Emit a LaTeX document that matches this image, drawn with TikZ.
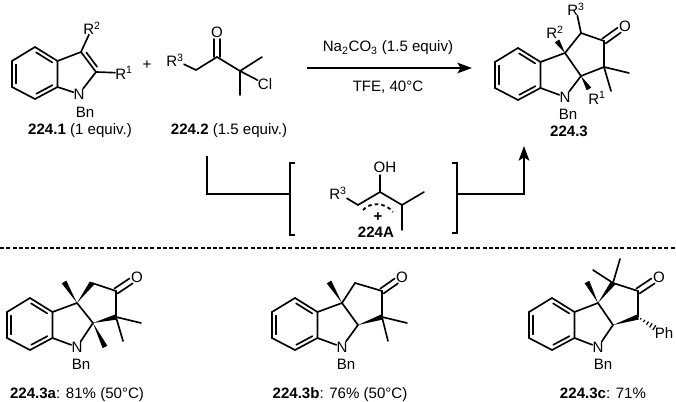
\documentclass[tikz,border=0pt]{standalone}
\usepackage{fontspec}
\setmainfont{Liberation Sans}
\usetikzlibrary{calc}
\usetikzlibrary{arrows.meta,positioning}
\tikzstyle{every node}=[font=\fontsize{11.3}{13}\selectfont]
\tikzstyle{atm}=[inner sep=0pt]
\tikzstyle{lbl}=[inner sep=0pt, anchor=base]
\tikzstyle{bd}=[line width=1.25pt, line join=miter, line cap=round]
\tikzstyle{brk}=[line width=1.25pt, line join=miter]
\tikzstyle{arw}=[-{Stealth[length=11pt,width=8pt,inset=2.5pt]}]
% inner line of a double bond
\newcommand{\inbd}[3]{\draw[bd] ($(#1)!.14!(#2)!#3!90:(#2)$) -- ($(#2)!.14!(#1)!#3!-90:(#1)$);}
% carbonyl, stops short of the O
\newcommand{\cobd}[2]{
\draw[bd] ($(#1)!2.2pt!90:(#2)$) -- ($(#1)!.72!(#2)!2.2pt!90:(#2)$);
\draw[bd] ($(#1)!2.2pt!-90:(#2)$) -- ($(#1)!.72!(#2)!2.2pt!-90:(#2)$);
}
% filled wedge, narrow at #1
\newcommand{\wdg}[2]{\fill (#1) -- ($(#2)!2pt!90:(#1)$) -- ($(#2)!2pt!-90:(#1)$) -- cycle;}
% six ring, #1 is the prefix, #2 the top corner
\newcommand{\bzring}[2]{
\coordinate (#1t) at (#2);
\coordinate (#1a) at ($(#1t)+(22.5,14)$);
\coordinate (#1b) at ($(#1t)+(22.5,40)$);
\coordinate (#1c) at ($(#1t)+(0,52)$);
\coordinate (#1d) at ($(#1t)+(-23,40)$);
\coordinate (#1e) at ($(#1t)+(-23,14)$);
\draw[bd] (#1t) -- (#1a) -- (#1b) -- (#1c) -- (#1d) -- (#1e) -- cycle;
\inbd{#1a}{#1t}{3pt}
\inbd{#1b}{#1c}{-3pt}
\inbd{#1d}{#1e}{-3pt}
}
\begin{document}
\begin{tikzpicture}[x=0.75pt, y=-0.75pt]
\useasboundingbox (0,0) rectangle (676,402);

%indole
\bzring{i}{35,47}
\node[atm] (iN) at (79,94) {N};
\node[atm] (iR2) at (92,28) {R\textsuperscript{2}};
\node[atm] (iR1) at (124,73) {R\textsuperscript{1}};
\node[atm] (iBn) at (85,112) {Bn};
\coordinate (iC3) at (81,52);
\coordinate (iC2) at (96,72);
\draw[bd] (ia) -- (iC3) -- (iC2) -- (iN) -- (ib);
\inbd{iC3}{iC2}{3pt}
\draw[bd] (iC3) -- (iR2);
\draw[bd] (iC2) -- (iR1);
\node[lbl] (l1) at (80,135) {\textbf{224.1} (1 equiv.)};
\node[atm] (plus) at (147,65) {+};

%ketone
\node[atm] (kR3) at (175,60) {R\textsuperscript{3}};
\node[atm] (kO) at (217,32) {O};
\node[atm] (kCl) at (265,84) {Cl};
\coordinate (kC1) at (196,70);
\coordinate (kC2) at (217,57);
\coordinate (kC3) at (240,71);
\coordinate (kM1) at (262,57);
\coordinate (kM2) at (240,95);
\draw[bd] (kR3) -- (kC1) -- (kC2) -- (kC3) -- (kM1);
\draw[bd] (kC3) -- (kM2);
\draw[bd] (kC3) -- (kCl);
\cobd{kC2}{kO}
\node[lbl] (l2) at (229,135) {\textbf{224.2} (1.5 equiv.)};

%arrow
\coordinate (ar1) at (307,68);
\coordinate (ar2) at (472,68);
\draw[brk, arw] (ar1) -- (ar2);
\node[lbl] (c1) at (388,52) {Na\textsubscript{2}CO\textsubscript{3} (1.5 equiv)};
\node[lbl] (c2) at (388,92) {TFE, 40°C};

%product
\bzring{p}{518,48}
\node[atm] (pN) at (565,97) {N};
\node[atm] (pBn) at (568,114) {Bn};
\node[atm] (pO) at (625,26) {O};
\node[atm] (pR3) at (576,9) {R\textsuperscript{3}};
\node[atm] (pR2) at (555,32) {R\textsuperscript{2}};
\node[atm] (pR1) at (597,98) {R\textsuperscript{1}};
\coordinate (pC1) at (565,53);
\coordinate (pC2) at (581,76);
\coordinate (pC3) at (581,33);
\coordinate (pC4) at (604,41);
\coordinate (pC5) at (604,67);
\coordinate (pM1) at (629,73);
\coordinate (pM2) at (611,91);
\coordinate (pW2) at (557,41);
\coordinate (pW1) at (589,89);
\draw[bd] (pa) -- (pC1) -- (pC3) -- (pC4) -- (pC5) -- (pC2) -- (pC1);
\draw[bd] (pC2) -- (pN) -- (pb);
\draw[bd] (pC5) -- (pM1);
\draw[bd] (pC5) -- (pM2);
\draw[bd] (pC3) -- (pR3);
\wdg{pC1}{pW2}
\wdg{pC2}{pW1}
\cobd{pC4}{pO}
\node[lbl] (l3) at (569,137) {\textbf{224.3}};

%bracket part
\coordinate (s1) at (207,156);
\coordinate (s2) at (207,194);
\coordinate (s3) at (290,194);
\draw[brk] (s1) -- (s2) -- (s3);
\coordinate (lb1) at (295,163);
\coordinate (lb2) at (290,163);
\coordinate (lb3) at (290,235);
\coordinate (lb4) at (295,235);
\draw[brk] (lb1) -- (lb2) -- (lb3) -- (lb4);
\coordinate (rb1) at (452,163);
\coordinate (rb2) at (457,163);
\coordinate (rb3) at (457,233);
\coordinate (rb4) at (452,233);
\draw[brk] (rb1) -- (rb2) -- (rb3) -- (rb4);
\coordinate (e1) at (457,194);
\coordinate (e2) at (524,194);
\coordinate (e3) at (524,146);
\draw[brk, arw] (e1) -- (e2) -- (e3);

%cation
\node[atm] (aR3) at (338,193) {R\textsuperscript{3}};
\node[atm] (aOH) at (385,167) {OH};
\coordinate (aC1) at (358,205);
\coordinate (aC2) at (380,192);
\coordinate (aC3) at (402,205);
\coordinate (aM1) at (424,192);
\coordinate (aM2) at (402,230);
\coordinate (aOb) at (380,175);
\draw[bd] (aR3) -- (aC1) -- (aC2) -- (aC3) -- (aM1);
\draw[bd] (aC3) -- (aM2);
\draw[bd] (aC2) -- (aOb);
\coordinate (d1) at (363,210);
\coordinate (d2) at (393,212);
\draw[line width=1.4pt, dash pattern=on 2.6pt off 2.4pt] (d1) .. controls (370,202) and (385,202) .. (d2);
\node[atm] (aP) at (378,217) {\textbf{+}};
\node[lbl] (l4) at (376,238) {\textbf{224A}};

%separator
\coordinate (sp1) at (0,248);
\coordinate (sp2) at (676,248);
\draw[line width=1.5pt, dash pattern=on 3pt off 1.7pt] (sp1) -- (sp2);

%224.3a
\bzring{A}{30,298}
\node[atm] (AN) at (77,347) {N};
\node[atm] (ABn) at (81,364) {Bn};
\node[atm] (AO) at (137,277) {O};
\coordinate (AC1) at (77,303);
\coordinate (AC2) at (93,323);
\coordinate (AC3) at (92,283);
\coordinate (AC4) at (116,291);
\coordinate (AC5) at (116,317);
\coordinate (AM1) at (141,323);
\coordinate (AM2) at (123,341);
\coordinate (AW1) at (64,282);
\coordinate (AW2) at (105,347);
\draw[bd] (Aa) -- (AC1) -- (AC2) -- (AN) -- (Ab);
\draw[bd] (AC3) -- (AC4) -- (AC5);
\draw[bd] (AC5) -- (AM1);
\draw[bd] (AC5) -- (AM2);
\wdg{AC1}{AW1}
\wdg{AC1}{AC3}
\wdg{AC2}{AW2}
\wdg{AC2}{AC5}
\cobd{AC4}{AO}
\node[lbl] (l5) at (77,399) {\textbf{224.3a}: 81\% (50°C)};

%224.3b
\bzring{B}{295,298}
\node[atm] (BN) at (342,347) {N};
\node[atm] (BBn) at (346,364) {Bn};
\node[atm] (BO) at (402,277) {O};
\coordinate (BC1) at (342,303);
\coordinate (BC2) at (358,325);
\coordinate (BC3) at (355,283);
\coordinate (BC4) at (382,291);
\coordinate (BC5) at (382,317);
\coordinate (BM1) at (407,323);
\coordinate (BM2) at (388,341);
\coordinate (BW1) at (329,282);
\draw[bd] (Ba) -- (BC1) -- (BC2) -- (BN) -- (Bb);
\draw[bd] (BC1) -- (BC3) -- (BC4) -- (BC5);
\draw[bd] (BC5) -- (BM1);
\draw[bd] (BC5) -- (BM2);
\wdg{BC1}{BW1}
\wdg{BC2}{BC5}
\cobd{BC4}{BO}
\node[lbl] (l6) at (340,399) {\textbf{224.3b}: 76\% (50°C)};

%224.3c
\bzring{C}{552,298}
\node[atm] (CN) at (598,347) {N};
\node[atm] (CBn) at (603,364) {Bn};
\node[atm] (CO) at (659,277) {O};
\node[atm] (CPh) at (664,333) {Ph};
\coordinate (CC1) at (598,303);
\coordinate (CC2) at (613,325);
\coordinate (CC3) at (613,283);
\coordinate (CC4) at (638,291);
\coordinate (CC5) at (638,317);
\coordinate (CM1) at (593,270);
\coordinate (CM2) at (620,259);
\coordinate (CW1) at (587,282);
\coordinate (CH) at (655,328);
\draw[bd] (Ca) -- (CC1) -- (CC2) -- (CN) -- (Cb);
\draw[bd] (CC3) -- (CC4) -- (CC5);
\draw[bd] (CC3) -- (CM1);
\draw[bd] (CC3) -- (CM2);
\wdg{CC1}{CW1}
\wdg{CC1}{CC3}
\wdg{CC2}{CC5}
\foreach \t/\w in {.16/.6,.36/1,.56/1.4,.76/1.8,.96/2.2}
  \draw[line width=0.9pt] ($(CC5)!\t!(CH)!\w pt!90:(CH)$) -- ($(CC5)!\t!(CH)!\w pt!-90:(CH)$);
\cobd{CC4}{CO}
\node[lbl] (l7) at (603,399) {\textbf{224.3c}: 71\%};

\end{tikzpicture}
\end{document}
